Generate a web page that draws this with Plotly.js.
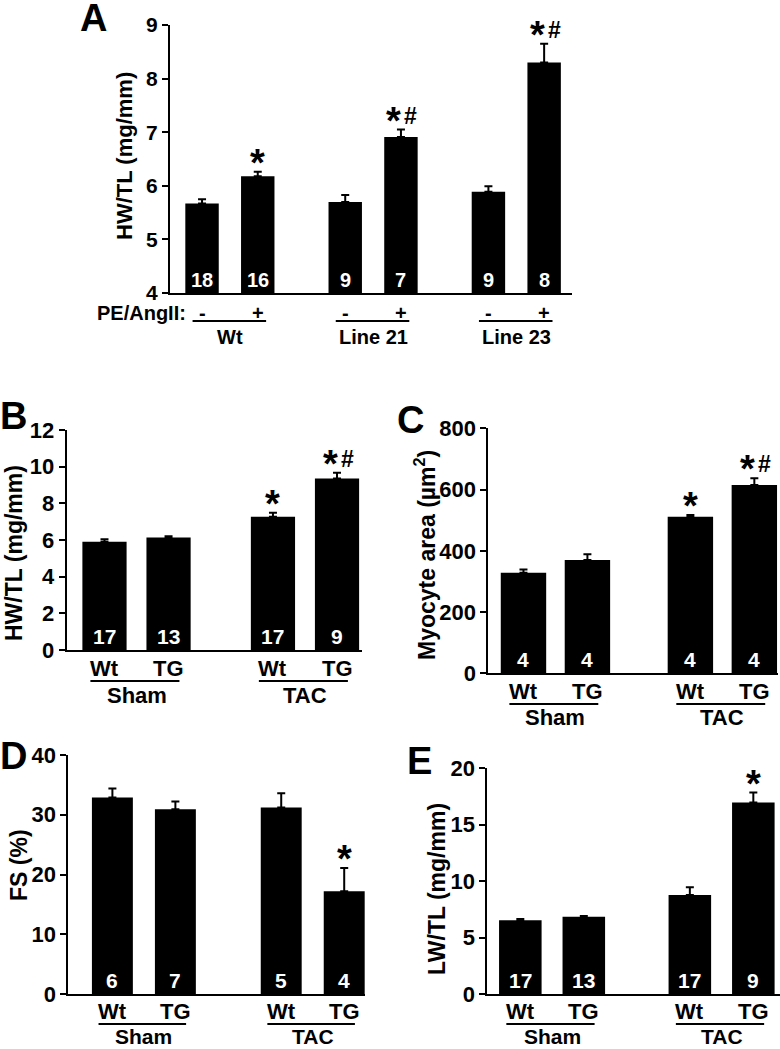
<!DOCTYPE html>
<html><head><meta charset="utf-8">
<script src="https://cdn.plot.ly/plotly-3.0.1.min.js"></script>
<style>html,body{margin:0;padding:0;background:#fff}</style>
</head><body><div id="chart" style="width:780px;height:1049px"></div>
<script>
// ---- data ----
const aValues = [5.67, 6.18, 5.70, 6.91, 5.89, 8.30];
const aSem    = [0.08, 0.08, 0.13, 0.14, 0.10, 0.35];
const aN      = [18, 16, 9, 7, 9, 8];
const aSig    = ["", "*", "", "*#", "", "*#"];
const aSub    = ["-", "+", "-", "+", "-", "+"];
const aGroups = ["Wt", "Line 21", "Line 23"];

const bValues = [5.91, 6.13, 7.27, 9.36];
const bSem    = [0.13, 0.07, 0.22, 0.31];
const bN      = [17, 13, 17, 9];
const bSig    = ["", "", "*", "*#"];

const cValues = [328, 370, 511, 615];
const cSem    = [11, 19, 6, 22];
const cN      = [4, 4, 4, 4];
const cSig    = ["", "", "*", "*#"];

const dValues = [32.9, 30.9, 31.2, 17.2];
const dSem    = [1.5, 1.3, 2.4, 3.9];
const dN      = [6, 7, 5, 4];
const dSig    = ["", "", "", "*"];

const eValues = [6.53, 6.85, 8.78, 16.96];
const eSem    = [0.12, 0.06, 0.68, 0.89];
const eN      = [17, 13, 17, 9];
const eSig    = ["", "", "", "*"];

const surgSub    = ["Wt", "TG", "Wt", "TG"];
const surgGroups = ["Sham", "TAC"];

// ---- layout helpers ----
const W = 780, H = 1049;
const FONT = "Liberation Sans, Arial, Helvetica, sans-serif";
const px = p => p / W;
const py = p => 1 - p / H;

const panels = [
  {letter:"A", values:aValues, sem:aSem, n:aN, sig:aSig, sub:aSub, groups:aGroups,
   gap:0.57, xdom:[170,572], ydom:[25,293], yrange:[4,9], dtick:1, xrange:[-0.575,6.64], barw:0.6,
   title:"HW/TL (mg/mm)", titlePos:[125,156], letterPos:[93,18], subY:313, lineY:321, groupY:337,
   tickSize:21, nSize:20, subSize:20, titleSize:22, ul:[-0.17,0.15], prefix:"PE/AngII:"},
  {letter:"B", values:bValues, sem:bSem, n:bN, sig:bSig, sub:surgSub, groups:surgGroups,
   gap:0.63, xdom:[66.7,362], ydom:[430,650], yrange:[0,12], dtick:2, xrange:[-0.59,4.02], barw:0.69,
   title:"HW/TL (mg/mm)", titlePos:[14,553], letterPos:[14,416], subY:668, lineY:681, groupY:695,
   tickSize:22, nSize:21, subSize:22, titleSize:23, ul:[-0.22,0.17]},
  {letter:"C", values:cValues, sem:cSem, n:cN, sig:cSig, sub:surgSub, groups:surgGroups,
   gap:0.61, xdom:[488.3,778], ydom:[428.3,673.3], yrange:[0,800], dtick:200, xrange:[-0.55,3.98], barw:0.71,
   title:"Myocyte area (\u00b5m<sup>2</sup>)", titlePos:[425,555], letterPos:[410,420], subY:691, lineY:704, groupY:717,
   tickSize:22, nSize:21, subSize:22, titleSize:23, ul:[-0.22,0.17]},
  {letter:"D", values:dValues, sem:dSem, n:dN, sig:dSig, sub:surgSub, groups:surgGroups,
   gap:0.68, xdom:[68.3,365], ydom:[755,994], yrange:[0,40], dtick:10, xrange:[-0.70,4.01], barw:0.65,
   title:"FS (%)", titlePos:[19,865], letterPos:[14,756], subY:1011, lineY:1024, groupY:1036,
   tickSize:22, nSize:21, subSize:22, titleSize:23, ul:[-0.22,0.17], groupSize:21},
  {letter:"E", values:eValues, sem:eSem, n:eN, sig:eSig, sub:surgSub, groups:surgGroups,
   gap:0.67, xdom:[487.3,780], ydom:[768.3,994], yrange:[0,20], dtick:5, xrange:[-0.52,4.09], barw:0.67,
   title:"LW/TL (mg/mm)", titlePos:[437,889], letterPos:[419,761], subY:1011, lineY:1024, groupY:1036,
   tickSize:22, nSize:21, subSize:22, titleSize:23, ul:[-0.22,0.17], groupSize:21}
];

const traces = [];
const annotations = [];
const shapes = [];
const layout = {
  width: W, height: H, margin:{l:0,r:0,t:0,b:0},
  paper_bgcolor:"#fff", plot_bgcolor:"rgba(0,0,0,0)",
  showlegend:false, font:{family:FONT, color:"#000"}
};

panels.forEach((p, k) => {
  const sfx = k === 0 ? "" : String(k + 1);
  const xa = "x" + sfx, ya = "y" + sfx;
  const perGroup = p.values.length / p.groups.length;
  const pos = p.values.map((v, i) => i + Math.floor(i / perGroup) * p.gap);

  traces.push({
    type:"bar", x:pos, y:p.values, xaxis:xa, yaxis:ya, width:p.barw,
    marker:{color:"#000", line:{width:0}},
    error_y:{type:"data", symmetric:false, array:p.sem, arrayminus:p.sem.map(() => 0),
             color:"#000", thickness:2, width:4},
    hoverinfo:"skip"
  });

  const tv = [];
  for (let t = p.yrange[0]; t <= p.yrange[1] + 1e-9; t += p.dtick) tv.push(t);

  layout["xaxis" + sfx] = {
    domain:[px(p.xdom[0]), px(p.xdom[1])], anchor:ya, range:p.xrange,
    showline:true, linecolor:"#000", linewidth:2, showticklabels:false, ticks:"",
    showgrid:false, zeroline:false, fixedrange:true
  };
  layout["yaxis" + sfx] = {
    domain:[py(p.ydom[1]), py(p.ydom[0])], anchor:xa, range:p.yrange,
    tickmode:"array", tickvals:tv, ticktext:tv.map(t => "<b>" + t + "</b>"),
    showline:true, linecolor:"#000", linewidth:2, ticks:"outside", ticklen:6, tickwidth:2, tickcolor:"#000",
    tickfont:{family:FONT, size:p.tickSize, color:"#000"},
    showgrid:false, zeroline:false, fixedrange:true
  };

  // panel letter
  annotations.push({xref:"paper", yref:"paper", x:px(p.letterPos[0]), y:py(p.letterPos[1]),
    xanchor:"center", yanchor:"middle", showarrow:false, text:"<b>" + p.letter + "</b>",
    font:{family:FONT, size:38, color:"#000"}});
  // y title
  annotations.push({xref:"paper", yref:"paper", x:px(p.titlePos[0]), y:py(p.titlePos[1]),
    xanchor:"center", yanchor:"middle", showarrow:false, textangle:-90, text:"<b>" + p.title + "</b>",
    font:{family:FONT, size:p.titleSize, color:"#000"}});

  p.values.forEach((v, i) => {
    // n inside bar
    annotations.push({xref:xa, yref:ya, x:pos[i], y:p.yrange[0], xanchor:"center", yanchor:"bottom",
      showarrow:false, text:"<b>" + p.n[i] + "</b>",
      font:{family:FONT, size:p.nSize, color:"#fff"}});
    // significance marks
    const s = p.sig[i];
    if (s) {
      const both = s.length > 1;
      annotations.push({xref:xa, yref:ya, x:pos[i], y:v + p.sem[i], xanchor:"center", yanchor:"bottom",
        xshift: both ? -7 : 0, yshift:-14, showarrow:false, text:"<b>*</b>",
        font:{family:FONT, size:38, color:"#000"}});
      if (both) {
        annotations.push({xref:xa, yref:ya, x:pos[i], y:v + p.sem[i], xanchor:"center", yanchor:"bottom",
          xshift:10, yshift:-1, showarrow:false, text:"<b>#</b>",
          font:{family:FONT, size:23, color:"#000"}});
      }
    }
    // sub label
    annotations.push({xref:xa, yref:"paper", x:pos[i], y:py(p.subY), xanchor:"center", yanchor:"middle",
      showarrow:false, text:"<b>" + p.sub[i] + "</b>", font:{family:FONT, size:p.subSize, color:"#000"}});
  });

  p.groups.forEach((g, gi) => {
    const first = pos[gi * perGroup], last = pos[gi * perGroup + perGroup - 1];
    shapes.push({type:"line", xref:xa, yref:"paper", x0:first + p.ul[0], x1:last + p.ul[1],
      y0:py(p.lineY), y1:py(p.lineY), line:{color:"#000", width:2}});
    annotations.push({xref:xa, yref:"paper", x:(first + last) / 2, y:py(p.groupY), xanchor:"center", yanchor:"middle",
      showarrow:false, text:"<b>" + g + "</b>", font:{family:FONT, size:p.groupSize || p.subSize, color:"#000"}});
  });

  if (p.prefix) {
    annotations.push({xref:"paper", yref:"paper", x:px(188), y:py(p.subY), xanchor:"right", yanchor:"middle",
      showarrow:false, text:"<b>" + p.prefix + "</b>", font:{family:FONT, size:p.subSize, color:"#000"}});
  }
});

layout.annotations = annotations;
layout.shapes = shapes;

Plotly.newPlot("chart", traces, layout, {staticPlot:true, displayModeBar:false});
</script>
</body></html>
